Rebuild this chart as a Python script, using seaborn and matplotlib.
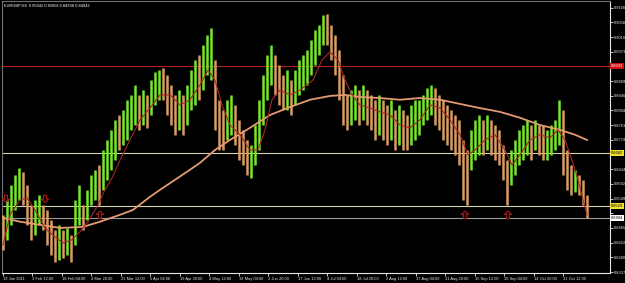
import numpy as np
import pandas as pd
import matplotlib
matplotlib.use("Agg")
import matplotlib.pyplot as plt
import matplotlib.transforms as mtransforms
from matplotlib.path import Path
import seaborn as sns

# ---------------- data ----------------
title = "EURGBP,H4  0.85042 0.85056 0.84938 0.84942"

highs = [0.8503, 0.8546, 0.8589, 0.8618, 0.8639, 0.8627, 0.8589, 0.8532, 0.8546, 0.8560,
         0.8532, 0.8517, 0.8488, 0.8459, 0.8474, 0.8459, 0.8465, 0.8445, 0.8546, 0.8589,
         0.8532, 0.8575, 0.8618, 0.8633, 0.8647, 0.8690, 0.8719, 0.8748, 0.8777, 0.8791,
         0.8806, 0.8835, 0.8849, 0.8878, 0.8849, 0.8863, 0.8849, 0.8892, 0.8915, 0.8921,
         0.8927, 0.8907, 0.8878, 0.8849, 0.8863, 0.8849, 0.8878, 0.8921, 0.8950, 0.8964,
         0.8993, 0.9022, 0.9042, 0.8950, 0.8835, 0.8806, 0.8835, 0.8849, 0.8820, 0.8777,
         0.8748, 0.8719, 0.8705, 0.8762, 0.8835, 0.8907, 0.8964, 0.8993, 0.8964, 0.8936,
         0.8907, 0.8921, 0.8892, 0.8921, 0.8950, 0.8964, 0.8979, 0.9008, 0.9037, 0.9051,
         0.9080, 0.9083, 0.9051, 0.9022, 0.8979, 0.8907, 0.8849, 0.8863, 0.8878, 0.8863,
         0.8878, 0.8863, 0.8849, 0.8835, 0.8849, 0.8835, 0.8820, 0.8835, 0.8806, 0.8820,
         0.8806, 0.8791, 0.8820, 0.8835, 0.8835, 0.8849, 0.8869, 0.8878, 0.8869, 0.8849,
         0.8835, 0.8820, 0.8806, 0.8791, 0.8777, 0.8719, 0.8690, 0.8748, 0.8777, 0.8791,
         0.8777, 0.8791, 0.8777, 0.8762, 0.8748, 0.8705, 0.8661, 0.8690, 0.8719, 0.8748,
         0.8762, 0.8777, 0.8762, 0.8777, 0.8762, 0.8762, 0.8748, 0.8762, 0.8777, 0.8835,
         0.8806, 0.8690, 0.8647, 0.8633, 0.8618, 0.8604, 0.8560]

lows = [0.8402, 0.8431, 0.8474, 0.8517, 0.8546, 0.8532, 0.8474, 0.8431, 0.8445, 0.8474,
        0.8459, 0.8416, 0.8387, 0.8367, 0.8373, 0.8379, 0.8387, 0.8367, 0.8416, 0.8474,
        0.8459, 0.8488, 0.8532, 0.8546, 0.8532, 0.8575, 0.8604, 0.8633, 0.8661, 0.8690,
        0.8705, 0.8719, 0.8748, 0.8762, 0.8748, 0.8762, 0.8754, 0.8791, 0.8820, 0.8835,
        0.8835, 0.8791, 0.8762, 0.8734, 0.8748, 0.8734, 0.8762, 0.8806, 0.8820, 0.8835,
        0.8863, 0.8907, 0.8892, 0.8748, 0.8690, 0.8690, 0.8719, 0.8734, 0.8705, 0.8661,
        0.8647, 0.8618, 0.8609, 0.8647, 0.8690, 0.8762, 0.8835, 0.8878, 0.8849, 0.8820,
        0.8806, 0.8806, 0.8791, 0.8820, 0.8849, 0.8863, 0.8878, 0.8907, 0.8936, 0.8964,
        0.8993, 0.8993, 0.8950, 0.8907, 0.8835, 0.8762, 0.8748, 0.8762, 0.8777, 0.8762,
        0.8777, 0.8762, 0.8748, 0.8719, 0.8734, 0.8719, 0.8705, 0.8719, 0.8690, 0.8705,
        0.8690, 0.8690, 0.8705, 0.8719, 0.8734, 0.8762, 0.8777, 0.8791, 0.8762, 0.8748,
        0.8719, 0.8705, 0.8690, 0.8676, 0.8647, 0.8546, 0.8532, 0.8633, 0.8661, 0.8676,
        0.8676, 0.8690, 0.8676, 0.8661, 0.8647, 0.8604, 0.8532, 0.8589, 0.8618, 0.8647,
        0.8661, 0.8676, 0.8661, 0.8690, 0.8676, 0.8661, 0.8661, 0.8676, 0.8690, 0.8705,
        0.8618, 0.8575, 0.8560, 0.8569, 0.8560, 0.8532, 0.8494]

dirs = ("d u u u u d d d u u  d d d d u d u d u u  d u u u d u u u u d  "
        "u u u u d u d u u u  d d d d u d u u u d  u u u d d d u u d d  "
        "d d u u u u u u d d  d u d u u u u u u u  u d d d d d d u u d  "
        "u d d d u d d u d u  d d u u u u u u d d  d d d d d d d u u u  "
        "d u d d d d d u u u  u u d u d d u u u u  d d d u d d d").split()

fast_x = [0, 1.75, 4.25, 6, 8, 10.5, 13, 15, 17.25, 19.25, 21.25, 23.5, 25.5, 27.25,
          29.25, 31.75, 34.25, 36.75, 39.25, 41.75, 44.25, 46.75, 49.25, 51.25, 53,
          54.75, 56.75, 59.25, 61.75, 63.75, 65.5, 67.25, 69.25, 71.75, 74.25, 77.5,
          79.75, 81.75, 83.75, 85.5, 87.25, 89.25, 91.75, 94.25, 96.75, 99.25, 101.75,
          104.25, 106.75, 109.25, 111.75, 114.25, 116.25, 118, 120.5, 123, 125.5,
          127.25, 129.25, 131.75, 134.25, 136.75, 138.75, 140.5, 142.25, 143.75, 145, 146]
fast_ma = [0.8416, 0.8503, 0.8546, 0.8552, 0.8517, 0.8465, 0.8439, 0.8422, 0.8431, 0.8454,
           0.8483, 0.8526, 0.8575, 0.8609, 0.8661, 0.8719, 0.8777, 0.8811, 0.8849, 0.8849,
           0.8820, 0.8835, 0.8878, 0.8921, 0.8892, 0.8820, 0.8762, 0.8734, 0.8690, 0.8690,
           0.8748, 0.8835, 0.8863, 0.8849, 0.8863, 0.8892, 0.8950, 0.8973, 0.8950, 0.8892,
           0.8849, 0.8820, 0.8811, 0.8800, 0.8791, 0.8762, 0.8754, 0.8777, 0.8820, 0.8811,
           0.8777, 0.8734, 0.8676, 0.8690, 0.8719, 0.8734, 0.8690, 0.8647, 0.8676, 0.8719,
           0.8734, 0.8725, 0.8748, 0.8719, 0.8661, 0.8604, 0.8546, 0.8503]

slow_x = [0, 4.25, 9.25, 14.25, 20, 24.25, 29.25, 32.5, 36.75, 39.25, 43, 46.75, 49.25,
          53, 56.75, 61.75, 66.75, 71.75, 76.75, 81.75, 85.5, 89.25, 94.25, 99.25,
          104.25, 109.25, 114.25, 119.25, 124.25, 129.25, 134.25, 139.25, 143, 146]
slow_ma = [0.8494, 0.8483, 0.8474, 0.8465, 0.8468, 0.8483, 0.8503, 0.8517, 0.8555, 0.8575,
           0.8604, 0.8633, 0.8653, 0.8690, 0.8719, 0.8754, 0.8791, 0.8814, 0.8835, 0.8846,
           0.8849, 0.8843, 0.8840, 0.8835, 0.8840, 0.8835, 0.8823, 0.8811, 0.8800, 0.8783,
           0.8762, 0.8748, 0.8734, 0.8719]

# horizontal levels
resistance = 0.8933
support_hi = 0.8682
support_lo = 0.8529
bid = 0.8494

# fractal arrows
arrow_up_x = [24.25, 115.5, 126.25]
arrow_up_y = [0.8503, 0.8503, 0.8503]
arrow_dn_x = [0.75, 10.5]
arrow_dn_y = [0.8549, 0.8549]

# axes labels
x_tick_pos = [0, 7.37, 14.74, 22.1, 29.5, 36.8, 44.2, 51.6, 59, 66.3, 73.7, 81.1,
              88.4, 95.8, 103.2, 110.5, 117.9, 125.3, 132.7, 140]
x_tick_labels = ["19 Jan 2011", "3 Feb 12:00", "18 Feb 04:00", "4 Mar 20:00",
                 "21 Mar 12:00", "5 Apr 04:00", "19 Apr 20:00", "4 May 12:00",
                 "19 May 04:00", "2 Jun 20:00", "17 Jun 12:00", "4 Jul 04:00",
                 "18 Jul 20:00", "2 Aug 12:00", "17 Aug 04:00", "31 Aug 20:00",
                 "15 Sep 12:00", "30 Sep 04:00", "14 Oct 20:00", "31 Oct 12:00"]
y_tick_vals = [0.9100, 0.9058, 0.9016, 0.8973, 0.8931, 0.8889, 0.8846, 0.8804, 0.8761,
               0.8719, 0.8677, 0.8634, 0.8592, 0.8549, 0.8507, 0.8465, 0.8422, 0.8380, 0.8337]
# labels hidden behind the price tags in the reference are left blank
y_tick_labels = ["0.9100", "0.9058", "0.9016", "0.8973", "", "0.8889", "0.8846",
                 "0.8804", "0.8761", "0.8719", "", "0.8634", "0.8592", "0.8549",
                 "", "0.8465", "0.8422", "0.8380", "0.8337"]

# ---------------- drawing ----------------
UP = "#74E82A"
DOWN = "#D99C62"
FS = 2.9
plt.rcParams["font.family"] = ["Liberation Sans", "DejaVu Sans"]

fig = plt.figure(figsize=(6.25, 2.83), dpi=100, facecolor="black")
ax = fig.add_axes([2 / 625, 10 / 283, 608 / 625, 272 / 283])
ax.set_facecolor("black")

df = pd.DataFrame({"bar": np.arange(len(highs)), "high": highs, "low": lows, "dir": dirs})
for d, col in (("d", DOWN), ("u", UP)):
    sub = df[df["dir"] == d]
    ax.vlines(sub["bar"], sub["low"], sub["high"], color=col, lw=1.8, zorder=3)

ax.axhline(resistance, color="#B3201C", lw=0.8, zorder=2)
ax.axhline(support_hi, color="#D8D2B0", lw=0.8, zorder=2)
ax.axhline(support_lo, color="#D8D2B0", lw=0.8, zorder=2)
ax.axhline(bid, color="#9A9A9A", lw=0.8, zorder=2)

sns.lineplot(x=slow_x, y=slow_ma, ax=ax, color="#E49A72", lw=1.3, zorder=4,
             sort=False, estimator=None)
sns.lineplot(x=fast_x, y=fast_ma, ax=ax, color="#A8262A", lw=0.8, zorder=4,
             sort=False, estimator=None)

up_arrow = Path([(0, 1), (1, 0.1), (0.4, 0.1), (0.4, -1), (-0.4, -1), (-0.4, 0.1),
                 (-1, 0.1), (0, 1)], closed=True)
dn_arrow = Path([(0, -1), (1, -0.1), (0.4, -0.1), (0.4, 1), (-0.4, 1), (-0.4, -0.1),
                 (-1, -0.1), (0, -1)], closed=True)
ax.scatter(arrow_up_x, arrow_up_y, marker=up_arrow, s=28, facecolors="none",
           edgecolors="#B01818", linewidths=0.8, zorder=6)
ax.scatter(arrow_dn_x, arrow_dn_y, marker=dn_arrow, s=28, facecolors="none",
           edgecolors="#B01818", linewidths=0.8, zorder=6)

ax.set_xlim(-0.25, 151.75)
ax.set_ylim(0.8335, 0.9120)

ax.yaxis.tick_right()
ax.set_yticks(y_tick_vals, y_tick_labels)
ax.set_xticks(x_tick_pos, x_tick_labels)
for lab in ax.get_xticklabels():
    lab.set_horizontalalignment("left")
ax.tick_params(axis="both", colors="#E6E6E6", labelsize=FS, length=2, width=0.6,
               direction="out", pad=0.6)
ax.tick_params(axis="x", pad=1.2)

for side in ("right", "bottom"):
    ax.spines[side].set_color("#E6E6E6")
    ax.spines[side].set_linewidth(0.8)
for side in ("top", "left"):
    ax.spines[side].set_color("#707070")
    ax.spines[side].set_linewidth(0.8)

blend = mtransforms.blended_transform_factory(ax.transAxes, ax.transData)
tags = [(resistance, "0.8933", "#D01010", "white"),
        (support_hi, "0.8682", "#F0E030", "black"),
        (support_lo, "0.8529", "#F0E030", "black"),
        (bid, "0.8494", "white", "black")]
for val, txt, fc, tc in tags:
    ax.text(1.002, val, txt, transform=blend, fontsize=FS, color=tc, va="center",
            ha="left", clip_on=False, zorder=10,
            bbox=dict(boxstyle="square,pad=0.2", fc=fc, ec="none"))

ax.text(0.004, 0.99, title, transform=ax.transAxes, fontsize=FS, color="white",
        va="top", ha="left")

fig.savefig("out.png", dpi=100, facecolor="black")
